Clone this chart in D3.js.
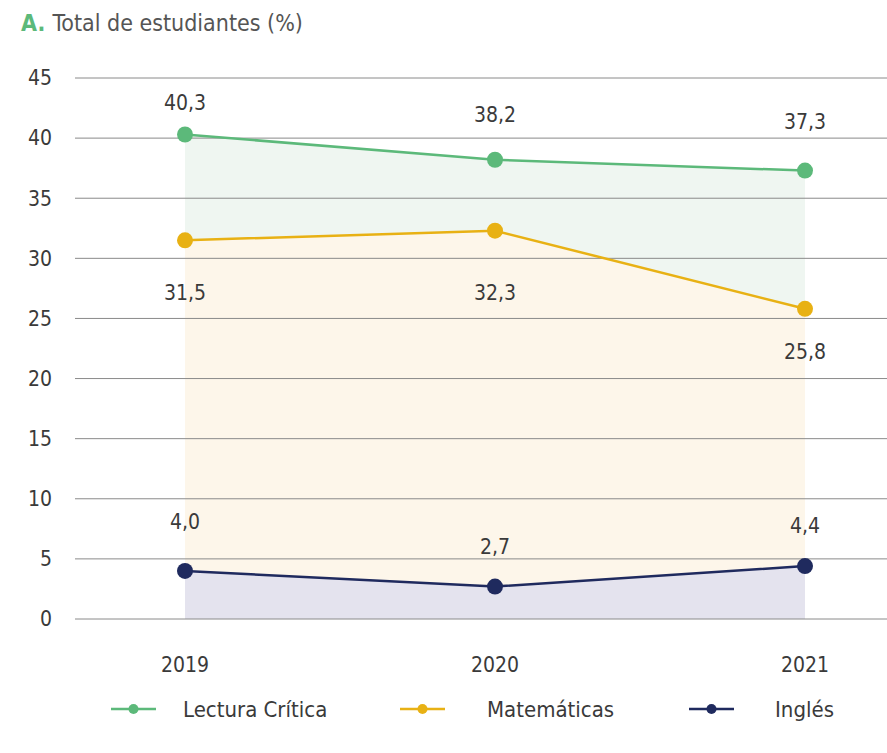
<!DOCTYPE html>
<html>
<head>
<meta charset="utf-8">
<script src="https://cdn.jsdelivr.net/npm/d3@7"></script>
<style>
	body { margin: 0; background: #fff; }
	text { font-family: "DejaVu Sans Condensed", "Roboto", sans-serif; fill: #3a3a3a; }
</style>
</head>
<body>
<script>
	// Data
	let years = ['2019', '2020', '2021'];
	let lectura = [40.3, 38.2, 37.3];
	let matematicas = [31.5, 32.3, 25.8];
	let ingles = [4.0, 2.7, 4.4];
	let yTicks = [0, 5, 10, 15, 20, 25, 30, 35, 40, 45];

	let series = [
		{name: 'Lectura Crítica', values: lectura, line: '#5cb97a', fill: '#eff6f1', dy: [-32, -45, -49]},
		{name: 'Matemáticas', values: matematicas, line: '#e8b114', fill: '#fdf6ea', dy: [52, 62, 43]},
		{name: 'Inglés', values: ingles, line: '#1f2a5e', fill: '#e4e3ee', dy: [-49, -40, -40]}
	];

	let width = 887, height = 753;
	let svg = d3.select('body').append('svg')
		.attr('width', width)
		.attr('height', height);

	let x = d3.scalePoint().domain(years).range([185, 805]);
	let y = d3.scaleLinear().domain([0, 45]).range([619, 78]);

	// Title
	let title = svg.append('text')
		.attr('x', 21)
		.attr('y', 31)
		.style('font-size', '23px');
	title.append('tspan').text('A. ')
		.style('fill', '#5cb97a')
		.style('font-weight', 'bold');
	title.append('tspan').text('Total de estudiantes (%)')
		.style('fill', '#555');

	// Areas, drawn back to front
	let area = d3.area()
		.x((d, i) => x(years[i]))
		.y0(y(0))
		.y1(d => y(d));
	svg.selectAll('.area')
		.data(series).enter()
		.append('path')
		.attr('class', 'area')
		.attr('d', d => area(d.values))
		.attr('fill', d => d.fill);

	// Grid lines
	svg.append('g')
		.selectAll('line')
		.data(yTicks).enter()
		.append('line')
		.attr('x1', 75)
		.attr('x2', width)
		.attr('y1', d => y(d))
		.attr('y2', d => y(d))
		.attr('stroke', '#8a8a8a')
		.attr('stroke-width', 1);

	// Y labels
	svg.append('g')
		.selectAll('text')
		.data(yTicks).enter()
		.append('text')
		.attr('x', 52)
		.attr('y', d => y(d))
		.attr('dy', '0.35em')
		.attr('text-anchor', 'end')
		.style('font-size', '21px')
		.text(d => d);

	// X labels
	svg.append('g')
		.selectAll('text')
		.data(years).enter()
		.append('text')
		.attr('x', d => x(d))
		.attr('y', 665)
		.attr('dy', '0.35em')
		.attr('text-anchor', 'middle')
		.style('font-size', '21px')
		.text(d => d);

	// Lines, points and value labels
	let line = d3.line()
		.x((d, i) => x(years[i]))
		.y(d => y(d));
	let fmt = d => d3.format('.1f')(d).replace('.', ',');

	let sg = svg.selectAll('.series')
		.data(series).enter()
		.append('g')
		.attr('class', 'series');
	sg.append('path')
		.attr('d', d => line(d.values))
		.attr('fill', 'none')
		.attr('stroke', d => d.line)
		.attr('stroke-width', 2.5);
	sg.each(function(s){
		let g = d3.select(this);
		g.selectAll('circle')
			.data(s.values).enter()
			.append('circle')
			.attr('cx', (d, i) => x(years[i]))
			.attr('cy', d => y(d))
			.attr('r', 8)
			.attr('fill', s.line);
		g.selectAll('text')
			.data(s.values).enter()
			.append('text')
			.attr('x', (d, i) => x(years[i]))
			.attr('y', (d, i) => y(d) + s.dy[i])
			.attr('dy', '0.35em')
			.attr('text-anchor', 'middle')
			.style('font-size', '21px')
			.text(fmt);
	});

	// Legend
	let legendX = [111, 400, 689];
	let legendTextX = [72, 87, 86];
	let lg = svg.append('g')
		.selectAll('g')
		.data(series).enter()
		.append('g')
		.attr('transform', (d, i) => 'translate(' + legendX[i] + ',709)');
	lg.append('line')
		.attr('x1', 0).attr('x2', 45)
		.attr('stroke', d => d.line)
		.attr('stroke-width', 2.5);
	lg.append('circle')
		.attr('cx', 22.5)
		.attr('r', 5)
		.attr('fill', d => d.line);
	lg.append('text')
		.attr('x', (d, i) => legendTextX[i])
		.attr('dy', '0.35em')
		.style('font-size', '22px')
		.text(d => d.name);
</script>
</body>
</html>
